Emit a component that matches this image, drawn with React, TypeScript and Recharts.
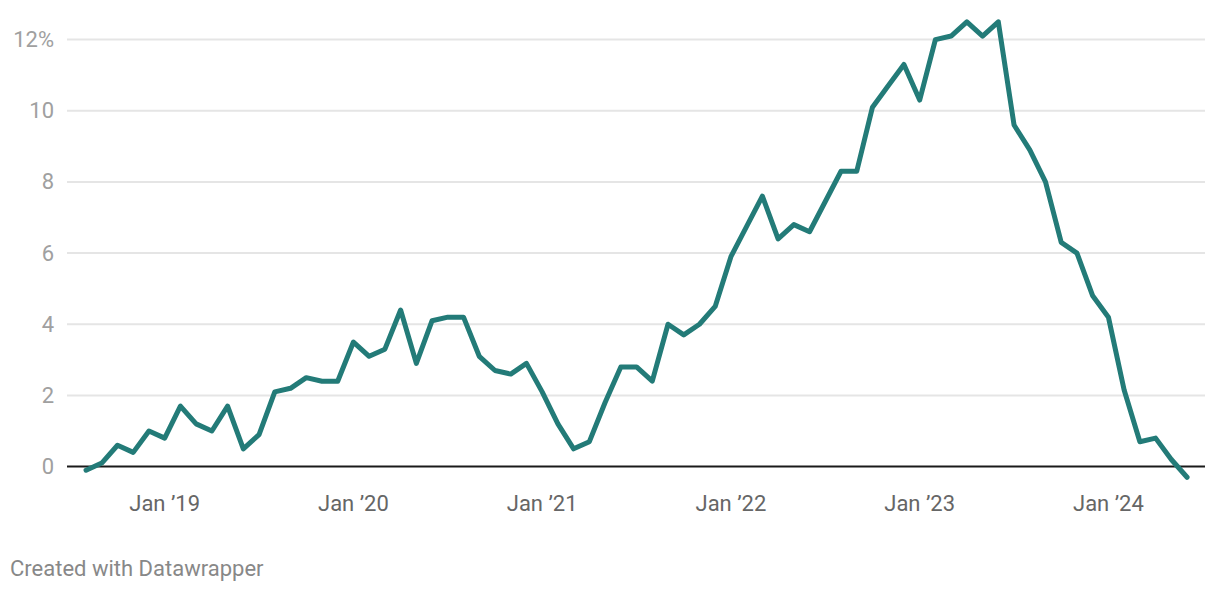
import { Line, LineChart, ReferenceLine, XAxis, YAxis } from "recharts";

// monthly, Aug 2018 .. Jun 2024
const months = [
  "2018-08", "2018-09", "2018-10", "2018-11", "2018-12",
  "2019-01", "2019-02", "2019-03", "2019-04", "2019-05", "2019-06",
  "2019-07", "2019-08", "2019-09", "2019-10", "2019-11", "2019-12",
  "2020-01", "2020-02", "2020-03", "2020-04", "2020-05", "2020-06",
  "2020-07", "2020-08", "2020-09", "2020-10", "2020-11", "2020-12",
  "2021-01", "2021-02", "2021-03", "2021-04", "2021-05", "2021-06",
  "2021-07", "2021-08", "2021-09", "2021-10", "2021-11", "2021-12",
  "2022-01", "2022-02", "2022-03", "2022-04", "2022-05", "2022-06",
  "2022-07", "2022-08", "2022-09", "2022-10", "2022-11", "2022-12",
  "2023-01", "2023-02", "2023-03", "2023-04", "2023-05", "2023-06",
  "2023-07", "2023-08", "2023-09", "2023-10", "2023-11", "2023-12",
  "2024-01", "2024-02", "2024-03", "2024-04", "2024-05", "2024-06",
];

const values = [
  -0.1, 0.1, 0.6, 0.4, 1.0,
  0.8, 1.7, 1.2, 1.0, 1.7, 0.5, 0.9, 2.1, 2.2, 2.5, 2.4, 2.4,
  3.5, 3.1, 3.3, 4.4, 2.9, 4.1, 4.2, 4.2, 3.1, 2.7, 2.6, 2.9,
  2.1, 1.2, 0.5, 0.7, 1.8, 2.8, 2.8, 2.4, 4.0, 3.7, 4.0, 4.5,
  5.9, 6.75, 7.6, 6.4, 6.8, 6.6, 7.45, 8.3, 8.3, 10.1, 10.7, 11.3,
  10.3, 12.0, 12.1, 12.5, 12.1, 12.5, 9.6, 8.9, 8.0, 6.3, 6.0, 4.8,
  4.2, 2.15, 0.7, 0.8, 0.2, -0.3,
];

const xTickMonths = ["2019-01", "2020-01", "2021-01", "2022-01", "2023-01", "2024-01"];
const xTickLabels = ["Jan \u201919", "Jan \u201920", "Jan \u201921", "Jan \u201922", "Jan \u201923", "Jan \u201924"];
const yTicks = [0, 2, 4, 6, 8, 10, 12];

const FONT = "Roboto, sans-serif";

const data = months.map((m, i) => ({ i, month: m, value: values[i] }));
const xTicks = xTickMonths.map((m) => months.indexOf(m));

// eslint-disable-next-line @typescript-eslint/no-explicit-any
function YTick(props: any) {
  const { y, payload } = props;
  const v = payload.value;
  return (
    <text x={54} y={y + 7.5} textAnchor="end" fill="#a0a0a0" fontSize={22} fontFamily={FONT}>
      {v === 12 ? "12%" : v}
    </text>
  );
}

// eslint-disable-next-line @typescript-eslint/no-explicit-any
function XTick(props: any) {
  const { x, y, payload } = props;
  const idx = xTicks.indexOf(payload.value);
  return (
    <text x={x} y={y + 19} textAnchor="middle" fill="#666" fontSize={22} fontFamily={FONT}>
      {xTickLabels[idx]}
    </text>
  );
}

export default function App() {
  return (
    <div style={{ position: "absolute", left: 0, top: 0, width: 1220, height: 594, background: "#fff" }}>
      <LineChart
        width={1220}
        height={539.4}
        data={data}
        margin={{ top: 4, right: 15, bottom: 0, left: 0 }}
      >
        <XAxis
          dataKey="i"
          type="number"
          domain={[-1.21, 71.14]}
          allowDataOverflow
          ticks={xTicks}
          tick={<XTick />}
          tickLine={false}
          axisLine={false}
          height={55}
          interval={0}
        />
        <YAxis
          domain={[-0.5, 13]}
          allowDataOverflow
          ticks={yTicks}
          tick={<YTick />}
          tickLine={false}
          axisLine={false}
          width={67}
          interval={0}
        />
        {yTicks
          .filter((t) => t !== 0)
          .map((t) => (
            <ReferenceLine key={t} y={t} stroke="#e5e5e5" strokeWidth={2} />
          ))}
        <ReferenceLine y={0} stroke="#1a1a1a" strokeWidth={2} />
        <Line
          type="linear"
          dataKey="value"
          stroke="#237b78"
          strokeWidth={5}
          strokeLinejoin="round"
          strokeLinecap="round"
          dot={false}
          activeDot={false}
          isAnimationActive={false}
        />
      </LineChart>
      <div
        style={{
          position: "absolute",
          left: 10,
          top: 557,
          fontFamily: FONT,
          fontSize: 22,
          color: "#888",
          lineHeight: "24px",
        }}
      >
        Created with Datawrapper
      </div>
    </div>
  );
}
